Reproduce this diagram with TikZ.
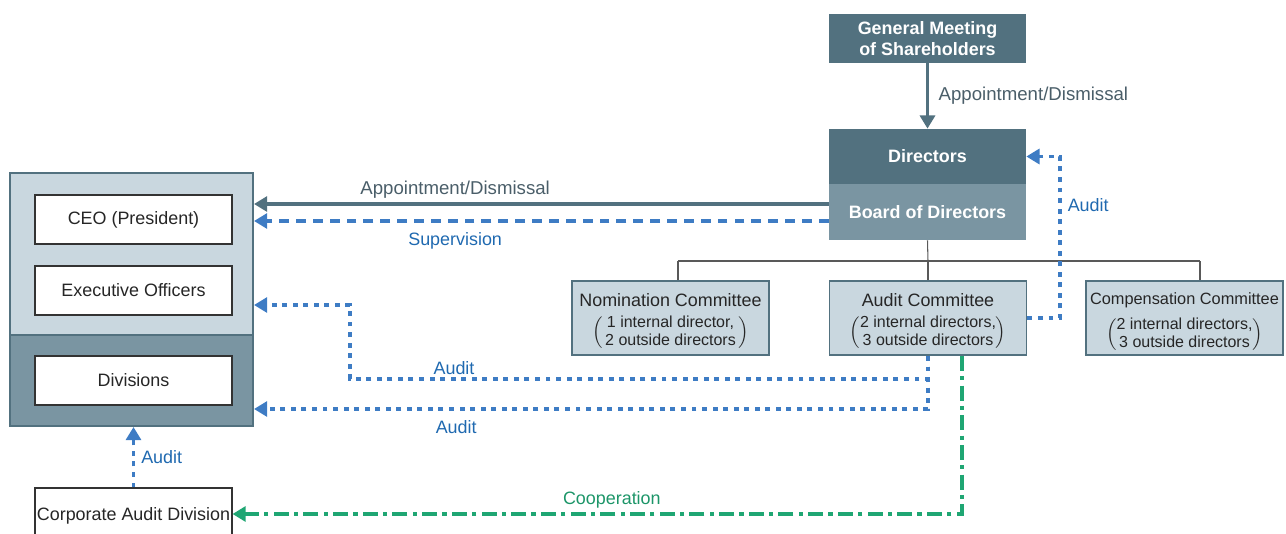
\documentclass[tikz,border=0pt]{standalone}
\usepackage{fontspec}
\setmainfont{Liberation Sans}
\usetikzlibrary{arrows.meta}

\definecolor{slate}{HTML}{52717F}
\definecolor{slatelight}{HTML}{7A95A2}
\definecolor{paleblue}{HTML}{C9D7DF}
\definecolor{auditblue}{HTML}{3E7CC4}
\definecolor{audittext}{HTML}{1F69B0}
\definecolor{coopgreen}{HTML}{1FA673}
\definecolor{labelgray}{HTML}{4A5E69}

\newcommand{\mainsz}{\fontsize{10.2}{12.2}\selectfont}
\newcommand{\subsz}{\fontsize{9.1}{10.2}\selectfont}

\begin{document}
\begin{tikzpicture}[x=0.02cm,y=-0.02cm,
  darkbox/.style={fill=slate,text=white,font=\bfseries\mainsz,minimum width=3.94cm,inner sep=0},
  whitebox/.style={draw=black!80,fill=white,text=black!85,font=\mainsz,minimum width=3.94cm,minimum height=0.98cm,inner sep=0,line width=0.6pt},
  commbox/.style={draw=slate,fill=paleblue,text=black!85,font=\mainsz,align=center,minimum width=3.94cm,minimum height=1.48cm,inner sep=0,line width=1.1pt},
  tree/.style={draw=black!65,line width=0.6pt},
  apparrow/.style={draw=slate,line width=2.1pt,-{Triangle[length=7.5pt,width=8.5pt]}},
  supline/.style={draw=auditblue,line width=2.1pt,dash pattern=on 5.6pt off 4pt,-{Triangle[length=7.5pt,width=8.5pt]}},
  auditline/.style={draw=auditblue,line width=2.2pt,dash pattern=on 2.8pt off 3.2pt,-{Triangle[length=7.5pt,width=8.5pt]}},
  coopline/.style={draw=coopgreen,line width=2.1pt,dash pattern=on 8.5pt off 3pt on 2.4pt off 3pt,-{Triangle[length=7.5pt,width=8.5pt]}},
  applabel/.style={text=labelgray,font=\fontsize{10.6}{12.6}\selectfont},
  audlabel/.style={text=audittext,font=\mainsz},
  cooplabel/.style={text=coopgreen!90!black,font=\mainsz}]

  \useasboundingbox (0,0) rectangle (1286,534);

  % shareholders and board
  \node[darkbox,minimum height=0.98cm,align=center] (gm) at (927.5,38.5) {General Meeting\\of Shareholders};
  \node[darkbox,minimum height=1.1cm] (dir) at (927.5,156.5) {Directors};
  \node[darkbox,fill=slatelight,minimum height=1.12cm] (board) at (927.5,212) {Board of Directors};

  % committees
  \node[commbox] (nom) at (670.5,318) {\rule{0pt}{12pt}Nomination Committee\\[3.5pt]
    {\subsz$\Big(\begin{tabular}{@{\,}c@{\,}}1 internal director,\\2 outside directors\end{tabular}\Big)$}};
  \node[commbox] (aud) at (928,318) {\rule{0pt}{12pt}Audit Committee\\[3.5pt]
    {\subsz$\Big(\begin{tabular}{@{}c@{}}2 internal directors,\\3 outside directors\end{tabular}\Big)$}};
  \node[commbox,font=\fontsize{9.3}{11.2}\selectfont] (comp) at (1184.5,318) {\rule{0pt}{12pt}Compensation Committee\\[4pt]
    {\subsz$\Big(\begin{tabular}{@{}c@{}}2 internal directors,\\3 outside directors\end{tabular}\Big)$}};

  % execution side
  \node[draw=slate,fill=paleblue,line width=1.1pt,minimum width=4.86cm,minimum height=3.24cm,inner sep=0] (execarea) at (131.5,254) {};
  \node[draw=slate,fill=slatelight,line width=1.1pt,minimum width=4.86cm,minimum height=1.82cm,inner sep=0] (divarea) at (131.5,380.5) {};
  \node[whitebox] (ceo) at (133.5,219.5) {CEO (President)};
  \node[whitebox] (exo) at (133.5,290.5) {Executive Officers};
  \node[whitebox] (div) at (133.5,380.5) {Divisions};
  \node[whitebox,minimum height=1.12cm] (cad) at (133.5,516) {Corporate Audit Division};

  % tree
  \coordinate (bus) at (928,261);
  \coordinate (nomtap) at (678,261);
  \coordinate (comptap) at (1200,261);
  \draw[tree] (board.south) -- (bus);
  \draw[tree] (nomtap) -- (comptap);
  \draw[tree] (nomtap) -- (nomtap |- nom.north);
  \draw[tree] (bus) -- (aud.north);
  \draw[tree] (comptap) -- (comptap |- comp.north);

  % connectors
  \draw[apparrow] (gm.south) -- node[applabel,right,xshift=2pt] {Appointment/Dismissal} (dir.north);

  \coordinate (appin) at (254,204);
  \coordinate (supin) at (254,221);
  \draw[apparrow] (board.west |- appin) -- node[applabel,pos=0.65,above,yshift=-1pt] {Appointment/Dismissal} (appin);
  \draw[supline] (board.west |- supin) -- node[audlabel,pos=0.65,below,yshift=-2pt] {Supervision} (supin);

  \coordinate (auditturn) at (1060,0);
  \draw[auditline] (aud.east) -- (aud.east -| auditturn) -- node[audlabel,pos=0.70,right] {Audit} (dir.east -| auditturn) -- (dir.east);

  \coordinate (exturn) at (350,379);
  \coordinate (exin) at (254,305);
  \draw[auditline] (aud.south) -- (aud.south |- exturn) -- node[audlabel,pos=0.82,above,yshift=-2pt] {Audit} (exturn) -- (exturn |- exin) -- (exin);

  \coordinate (divin) at (254,409);
  \draw[auditline] (aud.south) -- (aud.south |- divin) -- node[audlabel,pos=0.70,below,yshift=-2pt] {Audit} (divin);

  \coordinate (coopturn) at (962,514);
  \draw[coopline] (aud.south -| coopturn) -- (coopturn) -- node[cooplabel,pos=0.48,above,yshift=-1pt] {Cooperation} (coopturn -| cad.east);

  \draw[auditline] (cad.north) -- node[audlabel,right] {Audit} (cad.north |- divarea.south);
\end{tikzpicture}
\end{document}
